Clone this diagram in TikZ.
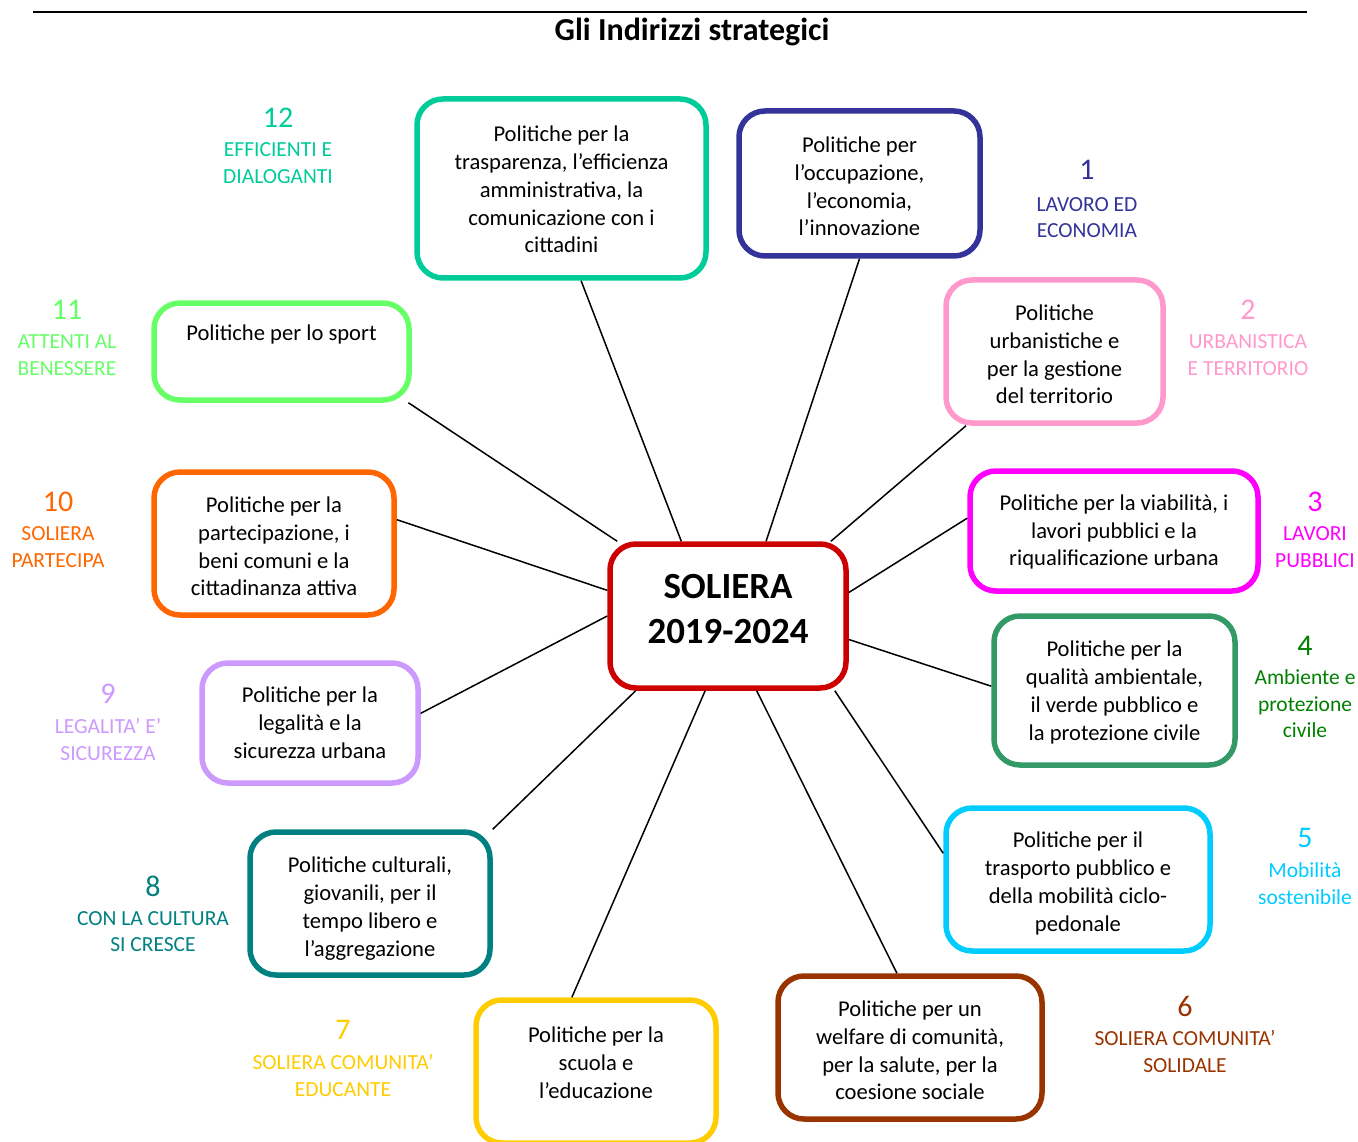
\documentclass[tikz,border=0pt]{standalone}
\usepackage{fontspec}
\setmainfont{Carlito}
\definecolor{cA}{HTML}{333399}
\definecolor{cB}{HTML}{FF99CC}
\definecolor{cC}{HTML}{FF00FF}
\definecolor{cD}{HTML}{339966}
\definecolor{cDl}{HTML}{008000}
\definecolor{cE}{HTML}{00CCFF}
\definecolor{cF}{HTML}{993300}
\definecolor{cG}{HTML}{FFCC00}
\definecolor{cH}{HTML}{008080}
\definecolor{cI}{HTML}{CC99FF}
\definecolor{cJ}{HTML}{FF6600}
\definecolor{cK}{HTML}{66FF66}
\definecolor{cL}{HTML}{00CC99}
\definecolor{cR}{HTML}{CC0000}
\tikzset{
  pbox/.style={draw=#1, line width=5.5pt, rounded corners=26pt, fill=white, inner sep=0pt},
  ptext/.style={align=center, inner sep=0pt, font=\fontsize{22.6}{27.8}\selectfont},
  lab/.style={text=#1, align=center, inner sep=0pt, font=\fontsize{21.5}{26.5}\selectfont},
  num/.style={text=#1, inner sep=0pt, font=\fontsize{30}{34}\selectfont},
  conn/.style={draw=black, line width=1.5pt},
}
\newcommand{\bx}[8]{% name, color, x1, y1, x2, y2, text y offset, text (pixel coords)
  \node[pbox=#2, minimum width={#5-#3}, minimum height={#6-#4}] (#1) at ({(#3+#5)/2},{(#4+#6)/2}) {};
  \node[ptext] (#1t) at ({(#3+#5)/2},{(#4+#6)/2+#7}) {#8};}
\begin{document}
\begin{tikzpicture}[x=1pt,y=-1pt]
\useasboundingbox (0,0) rectangle (1358,1142);
% top rule and title
\coordinate (ruleL) at (33,12);
\coordinate (ruleR) at (1307,12);
\draw[line width=2pt] (ruleL) -- (ruleR);
\node[inner sep=0pt, font=\fontsize{32}{36}\selectfont\bfseries] (title) at (692,32) {Gli Indirizzi strategici};

% center
\node[pbox=cR, minimum width=236, minimum height=144] (c) at (728,616) {};
\node[align=center, inner sep=0pt, font=\fontsize{36.9}{45}\selectfont\bfseries] (ct) at (728,609) {SOLIERA\\2019-2024};

% boxes
\bx{b12}{cL}{417}{99}{706}{278}{1}{Politiche per la\\trasparenza, l’efficienza\\amministrativa, la\\comunicazione con i\\cittadini}
\bx{b1}{cA}{739}{111}{980}{256}{3}{Politiche per\\l’occupazione,\\l’economia,\\l’innovazione}
\bx{b2}{cB}{946}{280}{1163}{423}{3}{Politiche\\urbanistiche e\\per la gestione\\del territorio}
\bx{b3}{cC}{970}{471}{1258}{591}{1}{Politiche per la viabilità, i\\lavori pubblici e la\\riqualificazione urbana}
\bx{b4}{cD}{994}{616}{1235}{765}{2}{Politiche per la\\qualità ambientale,\\il verde pubblico e\\la protezione civile}
\bx{b5}{cE}{946}{808}{1210}{951}{4}{Politiche per il\\trasporto pubblico e\\della mobilità ciclo-\\pedonale}
\bx{b6}{cF}{778}{976}{1042}{1119}{3}{Politiche per un\\welfare di comunità,\\per la salute, per la\\coesione sociale}
\bx{b7}{cG}{476}{1000}{716}{1143}{-9}{Politiche per la\\scuola e\\l’educazione}
\bx{b8}{cH}{250}{832}{490}{975}{5}{Politiche culturali,\\giovanili, per il\\tempo libero e\\l’aggregazione}
\bx{b9}{cI}{202}{663}{418}{783}{0}{Politiche per la\\legalità e la\\sicurezza urbana}
\bx{b10}{cJ}{154}{472}{394}{615}{3}{Politiche per la\\partecipazione, i\\beni comuni e la\\cittadinanza attiva}
\bx{b11}{cK}{154}{303}{409}{400}{-17}{Politiche per lo sport}

% connectors
\draw[conn] (c.122.8) -- (b12.282.4);
\draw[conn] (c.63.1) -- (b1.south);
\draw[conn] (c.36.1) -- (b2.220.6);
\draw[conn] (c.11.2) -- (b3.175.6);
\draw[conn] (c.-11.2) -- (b4.178.8);
\draw[conn] (c.-35.8) -- (b5.169.9);
\draw[conn] (c.-69.4) -- (b6.100.3);
\draw[conn] (c.253) -- (b7.108.9);
\draw[conn] (c.219.9) -- (b8.north east);
\draw[conn] (c.180) -- (b9.5.8);
\draw[conn] (c.168) -- (b10.11.5);
\draw[conn] (c.146.3) -- (b11.-22.3);

% labels
\node[num=cL] (n12) at (278,118) {12};
\node[lab=cL] (t12) at (278,163) {EFFICIENTI E\\DIALOGANTI};
\node[num=cA] (n1) at (1087,170) {1};
\node[lab=cA] (t1) at (1087,217.5) {LAVORO ED\\ECONOMIA};
\node[num=cB] (n2) at (1248,310) {2};
\node[lab=cB] (t2) at (1248,355) {URBANISTICA\\E TERRITORIO};
\node[num=cC] (n3) at (1315,502) {3};
\node[lab=cC] (t3) at (1315,547) {LAVORI\\PUBBLICI};
\node[num=cDl] (n4) at (1305,646) {4};
\node[lab=cDl] (t4) at (1305,704) {Ambiente e\\protezione\\civile};
\node[num=cE] (n5) at (1305,838) {5};
\node[lab=cE] (t5) at (1305,883.5) {Mobilità\\sostenibile};
\node[num=cF] (n6) at (1185,1006) {6};
\node[lab=cF] (t6) at (1185,1051.5) {SOLIERA COMUNITA’\\SOLIDALE};
\node[num=cG] (n7) at (343,1030) {7};
\node[lab=cG] (t7) at (343,1075.5) {SOLIERA COMUNITA’\\EDUCANTE};
\node[num=cH] (n8) at (153,886) {8};
\node[lab=cH] (t8) at (153,931.5) {CON LA CULTURA\\SI CRESCE};
\node[num=cI] (n9) at (108,694) {9};
\node[lab=cI] (t9) at (108,739.5) {LEGALITA’ E’\\SICUREZZA};
\node[num=cJ] (n10) at (58,502) {10};
\node[lab=cJ] (t10) at (58,547) {SOLIERA\\PARTECIPA};
\node[num=cK] (n11) at (67,310) {11};
\node[lab=cK] (t11) at (67,355) {ATTENTI AL\\BENESSERE};
\end{tikzpicture}
\end{document}
